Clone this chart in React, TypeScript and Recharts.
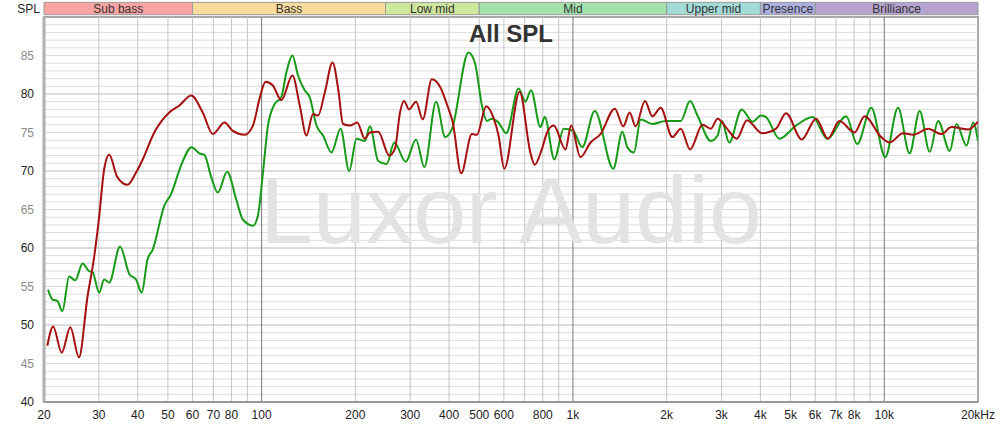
import { LineChart, Line, XAxis, YAxis, ReferenceLine, ReferenceArea, Customized } from 'recharts';

// ── Measured curves (Hz, dB SPL) ────────────────────────────
const RED_FREQ = [20.5, 21.4, 22.8, 24.3, 25.9, 27.6, 29.0, 30.1, 31.2, 32.4, 34.4, 37.1, 39.5, 41.5, 45.2, 50.5, 54.4, 59.4, 64.7, 69.7, 76.0, 80.8, 88.2, 93.8, 98.5, 103, 108.7, 115.7, 125.6, 132.6, 139.3, 146.3, 151.8, 159.6, 169, 176.1, 182.7, 192, 202.7, 214.6, 222.7, 236.9, 257, 268.1, 278.3, 286.7, 297.5, 313.3, 329.3, 352.1, 374.5, 393.4, 411.3, 437.5, 473.6, 491.5, 526.5, 555.7, 576.8, 601.8, 674.1, 729.7, 753.4, 795.8, 825.9, 867.4, 946.2, 986.7, 1057, 1139, 1226, 1363, 1451, 1521, 1590, 1703, 1799, 1913, 2087, 2219, 2378, 2607, 2773, 2914, 3098, 3362, 3622, 4047, 4490, 4835, 5431, 6039, 6588, 7178, 8024, 8641, 9779, 10400, 11490, 12380, 13830, 15260, 16440, 18600, 20000];
const RED_SPL = [47.3, 49.8, 46.4, 49.7, 45.8, 53.7, 58.9, 64.2, 70.2, 72.1, 69.2, 68.2, 69.8, 71.5, 75.0, 77.6, 78.5, 79.8, 77.6, 74.8, 76.3, 75.2, 74.7, 75.9, 79.4, 81.6, 81.1, 79.2, 82.4, 78.5, 74.6, 77.4, 77.2, 80.2, 84.1, 80.7, 76.1, 75.9, 76.3, 74.2, 75.0, 75.1, 72.0, 72.9, 77.6, 79.1, 78.0, 79.0, 76.7, 81.9, 80.9, 78.7, 76.3, 69.7, 74.8, 74.7, 78.4, 76.9, 74.6, 70.3, 80.3, 72.4, 70.8, 72.9, 75.0, 75.9, 72.8, 75.9, 71.8, 73.7, 74.8, 78.1, 75.8, 77.6, 75.8, 79.1, 77.1, 78.2, 74.4, 75.5, 72.8, 76.0, 75.5, 76.8, 75.7, 74.2, 76.6, 74.9, 75.5, 77.5, 74.1, 76.8, 74.2, 76.5, 75.0, 77.1, 74.4, 73.7, 74.9, 74.7, 75.5, 74.8, 75.7, 75.4, 76.4];

const GREEN_FREQ = [20.6, 21.3, 22.1, 22.9, 24.1, 25.2, 26.6, 27.9, 28.6, 30.1, 31.2, 32.4, 35.1, 37.6, 39.5, 41.2, 43.0, 44.7, 48.7, 51.2, 55.1, 59.6, 63.1, 65.5, 68.9, 72.3, 77.5, 82.9, 87.0, 93.8, 97.3, 101, 104.8, 110.1, 115.7, 120.1, 125.6, 130.9, 137.5, 142.7, 150.1, 157.5, 167.7, 179.3, 191.1, 201.8, 214.6, 222.7, 236.9, 252.2, 266.7, 290.3, 313.3, 333.2, 363.5, 388.6, 408.3, 461.8, 485.3, 510.2, 529.2, 549.2, 576.8, 610.7, 669, 703, 733.6, 785.9, 811.6, 871.6, 934, 1001, 1071, 1175, 1348, 1441, 1495, 1570, 1650, 1799, 1986, 2087, 2219, 2378, 2512, 2773, 2914, 3008, 3176, 3482, 3777, 4017, 4169, 4601, 5207, 5895, 6553, 7545, 8185, 9082, 10070, 11070, 12060, 12990, 13990, 14890, 16230, 17060, 18370, 19310, 20000];
const GREEN_SPL = [54.6, 53.3, 53.1, 51.8, 56.3, 55.8, 58.0, 57.0, 56.9, 54.2, 55.9, 55.5, 60.2, 56.6, 55.9, 54.2, 58.5, 59.8, 65.5, 67.0, 70.7, 73.1, 72.3, 72.1, 69.2, 67.2, 69.9, 66.3, 63.7, 62.9, 64.2, 69.8, 75.9, 78.7, 79.6, 82.8, 85.0, 82.4, 80.5, 79.6, 75.9, 74.6, 72.4, 75.5, 70.0, 74.2, 73.9, 75.8, 71.3, 70.9, 73.7, 71.2, 74.1, 70.5, 79.0, 74.4, 75.4, 85.4, 83.9, 78.5, 76.5, 76.8, 76.3, 74.9, 80.7, 79.0, 80.5, 75.7, 77.0, 71.5, 75.5, 75.2, 73.1, 77.8, 70.3, 75.1, 73.1, 72.4, 76.7, 76.1, 76.5, 76.5, 76.5, 79.1, 77.2, 73.9, 74.6, 76.5, 73.7, 78.0, 76.4, 77.2, 77.0, 74.2, 75.9, 77.0, 74.2, 77.1, 73.5, 78.2, 71.8, 78.2, 72.3, 77.8, 72.5, 76.5, 72.6, 76.1, 73.3, 76.3, 73.9];

// ── Axes, grid and frequency bands ──────────────────────────
const X_TICKS = [20, 30, 40, 50, 60, 70, 80, 100, 200, 300, 400, 500, 600, 800, 1000, 2000, 3000, 4000, 5000, 6000, 7000, 8000, 10000, 20000];
const X_GRID = [30, 40, 50, 60, 70, 80, 90, 100, 200, 300, 400, 500, 600, 700, 800, 900, 1000, 2000, 3000, 4000, 5000, 6000, 7000, 8000, 9000, 10000];
const Y_TICKS = [40, 45, 50, 55, 60, 65, 70, 75, 80, 85];
const Y_GRID = Array.from({ length: 49 }, (_, i) => 41 + i);

const BAND_NAMES = ['Sub bass', 'Bass', 'Low mid', 'Mid', 'Upper mid', 'Presence', 'Brilliance'];
const BAND_EDGES = [20, 60, 250, 500, 2000, 4000, 6000, 20000];
const BAND_COLORS = ['#f9a3a3', '#f7dc9c', '#cde79c', '#a3e2ac', '#a3dcd7', '#abb0e0', '#b6a3cf'];

const red = RED_FREQ.map((f, i) => ({ f, spl: RED_SPL[i] }));
const green = GREEN_FREQ.map((f, i) => ({ f, spl: GREEN_SPL[i] }));

const FONT = "'Liberation Sans', Arial, sans-serif";

const fmtHz = (v: number) => (v === 20000 ? '20kHz' : v >= 1000 ? `${v / 1000}k` : `${v}`);

function YTick({ x, y, payload }: any) {
  const major = payload.value % 10 === 0;
  return (
    <text x={x - 2} y={y + 4} textAnchor="end" fontFamily={FONT} fontSize={12} fill={major ? '#222' : '#8a8a8a'}>
      {payload.value}
    </text>
  );
}

function SplLabel() {
  return <text x={40} y={13} textAnchor="end" fontFamily={FONT} fontSize={12} fill="#222">SPL</text>;
}

export default function App() {
  return (
    <div style={{ position: 'absolute', left: 0, top: 0, width: 1000, height: 430, background: '#fff' }}>
      <LineChart width={1000} height={430} margin={{ top: 17, right: 22, bottom: 8, left: 14 }}>
        <XAxis
          dataKey="f" type="number" scale="log" domain={[20, 20000]} allowDataOverflow
          ticks={X_TICKS} tickFormatter={fmtHz} interval={0} height={20}
          tick={{ fontFamily: FONT, fontSize: 12, fill: '#222' }}
          tickLine={false} axisLine={{ stroke: '#999', strokeWidth: 2 }}
        />
        <YAxis
          type="number" domain={[40, 90]} ticks={Y_TICKS} interval={0} width={30} allowDataOverflow
          tick={<YTick />} tickLine={false} axisLine={{ stroke: '#b0b0b0', strokeWidth: 3 }}
        />
        {Y_GRID.map(v => (
          <ReferenceLine key={`h${v}`} y={v} stroke={v % 10 === 0 ? '#b8b8b8' : '#dcdcdc'} strokeWidth={1} />
        ))}
        {X_GRID.map(v => (
          <ReferenceLine key={`v${v}`} x={v} stroke={v === 100 || v === 1000 || v === 10000 ? '#7a7a7a' : '#c4c4c4'} strokeWidth={1} />
        ))}
        <ReferenceArea x1={20} x2={20000} y1={40} y2={90} fill="none" stroke="#a8a8a8" strokeWidth={2} />
        {BAND_NAMES.map((name, i) => (
          <ReferenceArea
            key={name} x1={BAND_EDGES[i]} x2={BAND_EDGES[i + 1]} y1={90.3} y2={91.9} ifOverflow="visible"
            fill={BAND_COLORS[i]} fillOpacity={1} stroke="#9a9a9a" strokeWidth={1}
            label={{ value: name, position: 'center', fill: '#333', fontSize: 12, fontFamily: FONT }}
          />
        ))}
        {/* watermark and title sit over the grid, under the curves */}
        <ReferenceArea
          x1={20} x2={20000} y1={40} y2={90} fill="none" stroke="none"
          label={{ value: 'Luxor Audio', position: 'center', fill: '#e3e3e3', fontSize: 95, fontFamily: FONT }}
        />
        <ReferenceArea
          x1={20} x2={20000} y1={86} y2={89.7} fill="none" stroke="none"
          label={{ value: 'All SPL', position: 'center', fill: '#333', fontSize: 24, fontWeight: 'bold', fontFamily: FONT }}
        />
        <Customized component={<SplLabel />} />
        <Line data={green} dataKey="spl" type="monotone" stroke="#179a17" strokeWidth={2} dot={false} isAnimationActive={false} />
        <Line data={red} dataKey="spl" type="monotone" stroke="#a51010" strokeWidth={2} dot={false} isAnimationActive={false} />
      </LineChart>
    </div>
  );
}
